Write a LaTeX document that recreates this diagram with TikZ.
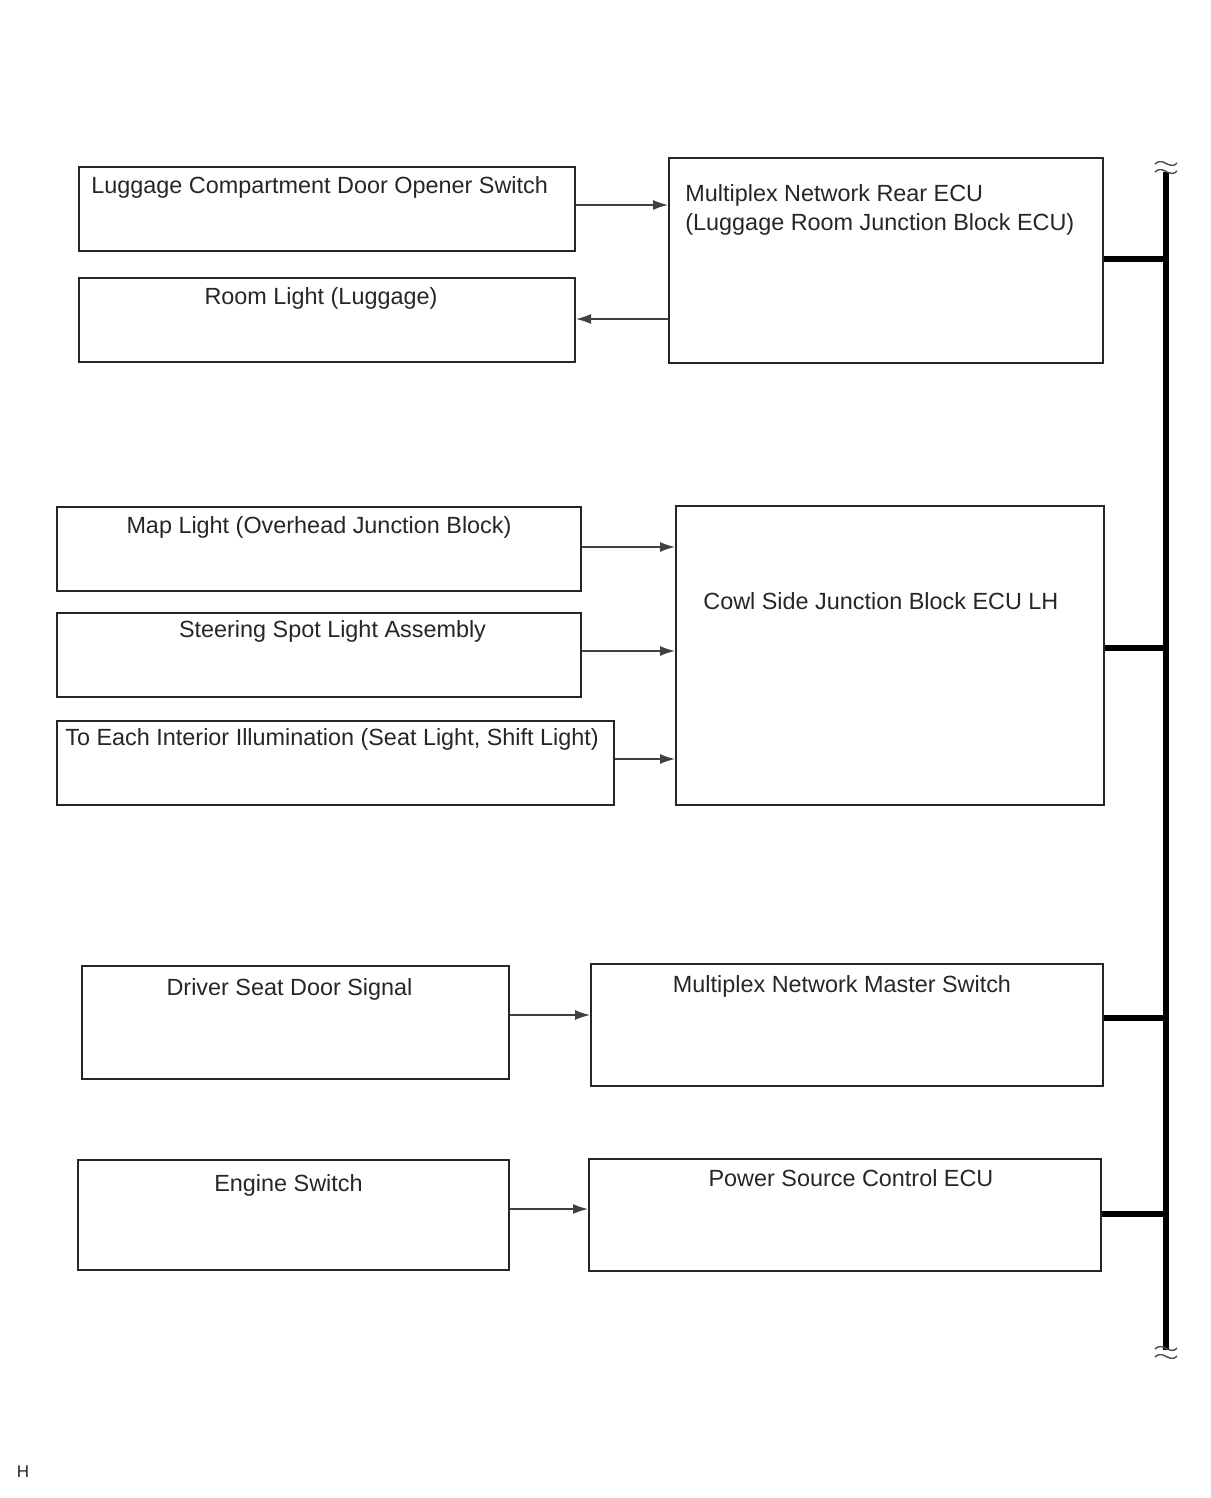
\documentclass[tikz,border=0pt]{standalone}
\usepackage{fontspec}
\setmainfont{Liberation Sans}
\usetikzlibrary{arrows.meta}
\begin{document}
\begin{tikzpicture}[x=0.5pt,y=-0.5pt,
  box/.style={draw=black!85, line width=1pt, inner sep=0pt, anchor=north west},
  lbl/.style={font=\fontsize{11.7}{14}\selectfont, text=black!85, inner sep=0pt},
  sig/.style={draw=black!75, line width=0.7pt, -{Latex[length=7.5pt,width=5pt]}},
  bus/.style={line width=2.6pt, black},
  brk/.style={line width=0.7pt, black!70}
]
\useasboundingbox (0,0) rectangle (1210,1498);
% boxes
\node[box, minimum width=248pt, minimum height=42pt] (lug) at (78,166) {};
\node[box, minimum width=248pt, minimum height=42pt] (room) at (78,277) {};
\node[box, minimum width=217pt, minimum height=102.5pt] (rear) at (668,157) {};
\node[box, minimum width=262pt, minimum height=42pt] (map) at (56,506) {};
\node[box, minimum width=262pt, minimum height=42pt] (steer) at (56,612) {};
\node[box, minimum width=278.5pt, minimum height=42pt] (illum) at (56,720) {};
\node[box, minimum width=214pt, minimum height=149.5pt] (cowl) at (675,505) {};
\node[box, minimum width=213.5pt, minimum height=56.5pt] (drv) at (81,965) {};
\node[box, minimum width=256pt, minimum height=61pt] (mst) at (590,963) {};
\node[box, minimum width=215.5pt, minimum height=55pt] (eng) at (77,1159) {};
\node[box, minimum width=256pt, minimum height=56pt] (pwr) at (588,1158) {};
% labels
\node[lbl, anchor=base west] at (91,194) {Luggage Compartment Door Opener Switch};
\node[lbl, anchor=base] at (321,304) {Room Light (Luggage)};
\node[lbl, anchor=base west] at (685,202) {Multiplex Network Rear ECU};
\node[lbl, anchor=base west] at (685,231) {(Luggage Room Junction Block ECU)};
\node[lbl, anchor=base] at (319,533) {Map Light (Overhead Junction Block)};
\node[lbl, anchor=base] at (332.5,637) {Steering Spot Light Assembly};
\node[lbl, anchor=base west] at (65,745) {To Each Interior Illumination (Seat Light, Shift Light)};
\node[lbl, anchor=base west] at (703,609) {Cowl Side Junction Block ECU LH};
\node[lbl, anchor=base] at (289.5,995) {Driver Seat Door Signal};
\node[lbl, anchor=base] at (842,992) {Multiplex Network Master Switch};
\node[lbl, anchor=base] at (288.5,1191) {Engine Switch};
\node[lbl, anchor=base] at (851,1186) {Power Source Control ECU};
\node[font=\fontsize{8.5}{10}\selectfont, text=black!85, inner sep=0pt] (hmark) at (23,1472) {H};
% signal arrows
\draw[sig] (lug.east |- 0,205) -- (rear.west |- 0,205);
\draw[sig] (rear.west |- 0,319) -- (room.east |- 0,319);
\draw[sig] (map.east |- 0,547) -- (cowl.west |- 0,547);
\draw[sig] (steer.east |- 0,651) -- (cowl.west |- 0,651);
\draw[sig] (illum.east |- 0,759) -- (cowl.west |- 0,759);
\draw[sig] (drv.east |- 0,1015) -- (mst.west |- 0,1015);
\draw[sig] (eng.east |- 0,1209) -- (pwr.west |- 0,1209);
% bus
\coordinate (btop) at (1166,172);
\coordinate (bbot) at (1166,1350);
\draw[bus] (btop) -- (bbot);
\draw[bus] (rear.east |- 0,259) -- (1166,259);
\draw[bus] (cowl.east |- 0,648) -- (1166,648);
\draw[bus] (mst.east |- 0,1018) -- (1166,1018);
\draw[bus] (pwr.east |- 0,1214) -- (1166,1214);
% break marks
\foreach \yy in {164,172,1349,1357}{
  \draw[brk] (1155,\yy) .. controls (1160,\yy-5) and (1165,\yy-1) .. (1167,\yy) .. controls (1170,\yy+1) and (1174,\yy+3) .. (1177,\yy-1);
}
\end{tikzpicture}
\end{document}
